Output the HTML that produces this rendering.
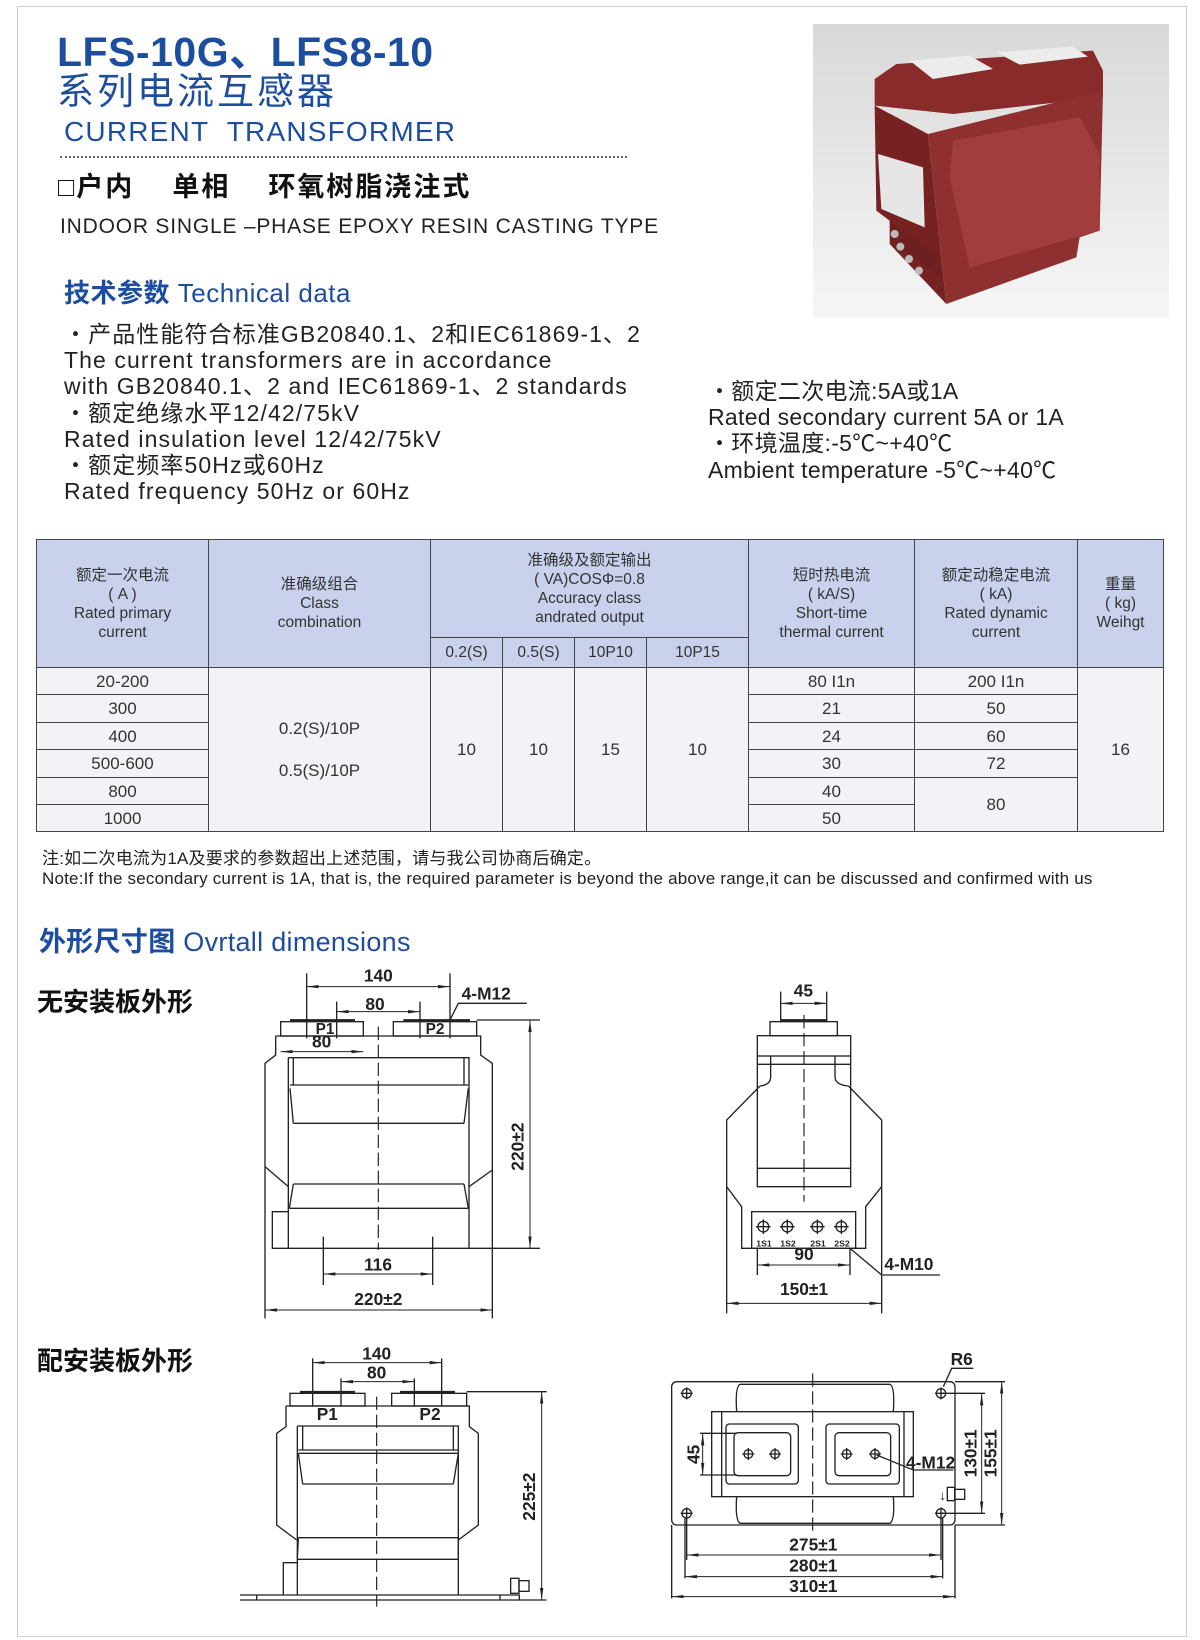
<!DOCTYPE html>
<html><head><meta charset="utf-8">
<style>
*{margin:0;padding:0;box-sizing:border-box}
body{width:1200px;height:1640px;background:#fff;position:relative;overflow:hidden;font-family:"Liberation Sans","Noto Sans CJK SC",sans-serif;color:#222}
.a{position:absolute;white-space:nowrap}
.blue{color:#1d4d9e}
table{position:absolute;left:36px;top:539px;border-collapse:collapse;table-layout:fixed;width:1127px}
td{border:1.5px solid #444;text-align:center;vertical-align:middle;font-size:16px;line-height:19px;color:#333}
thead td{background:#c9d1ec;font-size:15.5px}
tbody td{background:#f2f3f7;font-size:17px}
</style></head><body>
<div class="a" style="left:17px;top:6px;width:1170px;height:1631px;border:1.5px solid #cfcfcf"></div>

<div class="a blue" style="left:57px;top:18px;font-size:41px;font-weight:bold;letter-spacing:0.5px">LFS-10G、LFS8-10</div>
<div class="a blue" style="left:57px;top:72px;font-size:37px;letter-spacing:3px;line-height:40px">系列电流互感器</div>
<div class="a blue" style="left:64px;top:116px;font-size:28px;letter-spacing:1.2px">CURRENT&nbsp; TRANSFORMER</div>
<div class="a" style="left:60px;top:156px;width:567px;border-top:2px dotted #666"></div>
<div class="a" style="left:58px;top:171px;font-size:27px;font-weight:bold;line-height:32px;color:#111;letter-spacing:2px">□户内&nbsp;&nbsp;&nbsp; 单相&nbsp;&nbsp;&nbsp; 环氧树脂浇注式</div>
<div class="a" style="left:60px;top:215px;font-size:21px;color:#222;letter-spacing:0.8px">INDOOR SINGLE –PHASE EPOXY RESIN CASTING TYPE</div>
<div class="a blue" style="left:64px;top:273px;font-size:26px;letter-spacing:0.5px"><b>技术参数</b> Technical data</div>

<div class="a" style="left:64px;top:321px;font-size:23px;line-height:26.2px;color:#222;letter-spacing:1.1px">
・产品性能符合标准GB20840.1、2和IEC61869-1、2<br>
The current transformers are in accordance<br>
with GB20840.1、2 and IEC61869-1、2 standards<br>
・额定绝缘水平12/42/75kV<br>
Rated insulation level 12/42/75kV<br>
・额定频率50Hz或60Hz<br>
Rated frequency 50Hz or 60Hz</div>
<div class="a" style="left:708px;top:378px;font-size:23px;line-height:26.2px;color:#222;letter-spacing:0.3px">
・额定二次电流:5A或1A<br>
Rated secondary current 5A or 1A<br>
・环境温度:-5℃~+40℃<br>
Ambient temperature -5℃~+40℃</div>

<svg class="a" style="left:813px;top:24px" width="356" height="294" viewBox="0 0 1068 882" preserveAspectRatio="none">
<defs><linearGradient id="bg" x1="0" y1="0" x2="0" y2="1"><stop offset="0" stop-color="#d8d8d8"/><stop offset="1" stop-color="#f6f6f6"/></linearGradient></defs>
<rect width="1068" height="882" fill="url(#bg)"/>
<polygon points="185,165 250,120 840,80 870,140 870,220 420,270 185,245" fill="#8a2b2b"/>
<polygon points="185,245 345,330 400,840 230,660 230,590 190,560" fill="#762222"/>
<polygon points="345,330 870,200 860,620 800,640 790,700 400,840" fill="#8e3030"/>
<polygon points="420,350 800,280 860,390 860,620 470,730 410,460" fill="#a23d3d"/>
<polygon points="195,390 330,430 335,610 205,555" fill="#e6e6e6"/>
<polygon points="290,110 470,95 540,135 360,165" fill="#ececec"/>
<polygon points="550,85 780,68 825,98 620,122" fill="#ececec"/>
<polygon points="230,590 380,690 385,760 235,650" fill="#6e2020"/>
<circle cx="245" cy="630" r="12" fill="#bbb"/><circle cx="262" cy="668" r="12" fill="#bbb"/><circle cx="288" cy="705" r="12" fill="#bbb"/><circle cx="318" cy="740" r="12" fill="#bbb"/>
</svg>

<table>
<colgroup><col style="width:172px"><col style="width:222px"><col style="width:72px"><col style="width:72px"><col style="width:72px"><col style="width:102px"><col style="width:166px"><col style="width:163px"><col style="width:86px"></colgroup>
<thead>
<tr style="height:98px"><td rowspan="2">额定一次电流<br>( A )<br>Rated primary<br>current</td><td rowspan="2">准确级组合<br>Class<br>combination</td><td colspan="4">准确级及额定输出<br>( VA)COSΦ=0.8<br>Accuracy class<br>andrated output</td><td rowspan="2">短时热电流<br>( kA/S)<br>Short-time<br>thermal current</td><td rowspan="2">额定动稳定电流<br>( kA)<br>Rated dynamic<br>current</td><td rowspan="2">重量<br>( kg)<br>Weihgt</td></tr>
<tr style="height:30px"><td>0.2(S)</td><td>0.5(S)</td><td>10P10</td><td>10P15</td></tr>
</thead>
<tbody>
<tr style="height:27px"><td>20-200</td><td rowspan="6" style="line-height:42px">0.2(S)/10P<br>0.5(S)/10P</td><td rowspan="6">10</td><td rowspan="6">10</td><td rowspan="6">15</td><td rowspan="6">10</td><td>80 I1n</td><td>200 I1n</td><td rowspan="6">16</td></tr>
<tr style="height:28px"><td>300</td><td>21</td><td>50</td></tr>
<tr style="height:27px"><td>400</td><td>24</td><td>60</td></tr>
<tr style="height:28px"><td>500-600</td><td>30</td><td>72</td></tr>
<tr style="height:27px"><td>800</td><td>40</td><td rowspan="2">80</td></tr>
<tr style="height:27px"><td>1000</td><td>50</td></tr>
</tbody></table>

<div class="a" style="left:42px;top:849px;font-size:17px;line-height:20px;color:#222;letter-spacing:0.2px">注:如二次电流为1A及要求的参数超出上述范围，请与我公司协商后确定。<br>Note:If the secondary current is 1A, that is, the required parameter is beyond the above range,it can be discussed and confirmed with us</div>

<div class="a blue" style="left:39px;top:920px;font-size:27px;letter-spacing:0.3px"><b>外形尺寸图</b> Ovrtall dimensions</div>
<div class="a" style="left:37px;top:982px;font-size:26px;font-weight:bold;color:#111">无安装板外形</div>
<div class="a" style="left:37px;top:1341px;font-size:26px;font-weight:bold;color:#111">配安装板外形</div>

<svg class="a" style="left:0;top:0" width="1200" height="1640">
<defs>
<marker id="ar" markerUnits="userSpaceOnUse" markerWidth="36" markerHeight="16" refX="36" refY="6" orient="auto-start-reverse" viewBox="0 0 36 12"><path d="M36,6 L0,1 L0,11 Z" fill="#222"/></marker>
</defs>
<style>
.d path,.d rect,.d circle{fill:none;stroke:#222;stroke-width:4}
.d path.m{marker-start:url(#ar);marker-end:url(#ar);stroke-width:3}
.d path.th{stroke-width:9}
.d path.ds{stroke-dasharray:40,14;stroke-width:3.5}
.d text{font-family:"Liberation Sans",sans-serif;font-weight:bold;font-size:52px;fill:#222;text-anchor:middle;stroke:none}
</style>

<g class="d" transform="translate(240,960) scale(0.33333)">
<path d="M200,40V235M630,40V235M290,125V235M540,125V235"/>
<path class="m" d="M200,80H630"/><path class="m" d="M290,155H540"/>
<text x="415" y="65">140</text><text x="405" y="150">80</text>
<text x="665" y="118" style="text-anchor:start">4-M12</text>
<path d="M630,180L655,130H860"/>
<rect x="122" y="185" width="248" height="43"/><rect x="460" y="185" width="250" height="43"/>
<path class="th" d="M150,182H345M490,182H690"/>
<text x="255" y="222" style="font-size:46px">P1</text><text x="585" y="222" style="font-size:46px">P2</text>
<text x="245" y="262">80</text><path class="m" d="M122,275H370"/>
<path d="M107,228H722V285L757,310V1075M107,228V285L75,310V1075M75,620L145,680M757,630L687,680"/>
<path d="M145,293H687V865H97V755H145M145,293V865"/>
<path d="M160,293V375M672,293V375M150,375H685M150,385L160,490M685,385L672,490M160,490H672M160,672H672M160,672L148,745M672,672L685,745M148,745H687"/>
<path class="ds" d="M415,200V870"/>
<path d="M710,180H900M687,865H900"/><path class="m" d="M870,180V865"/>
<text transform="translate(850,560) rotate(-90)">220±2</text>
<path d="M250,830V975M578,830V975"/><path class="m" d="M250,942H578"/><text x="414" y="932">116</text>
<path class="m" d="M75,1050H757"/><text x="415" y="1035">220±2</text>
</g>

<g class="d" transform="translate(700,960) scale(0.33333)">
<path d="M242,95V185M380,95V185"/><path class="m" d="M242,130H380"/><text x="310" y="110">45</text>
<path class="th" d="M242,182H382"/>
<rect x="210" y="185" width="202" height="42"/><rect x="172" y="227" width="280" height="61"/>
<path d="M172,313H452M172,288V680H452V288M172,625H452"/>
<path d="M212,288V350Q212,375 180,378M405,288V350Q405,375 445,378M180,378L80,480V680L125,740V865H497V740L545,680V480L445,378"/>
<rect x="155" y="755" width="312" height="110"/>
<g><circle cx="190" cy="800" r="16"/><circle cx="262" cy="800" r="16"/><circle cx="352" cy="800" r="16"/><circle cx="424" cy="800" r="16"/>
<path d="M190,778V822M168,800H212M262,778V822M240,800H284M352,778V822M330,800H374M424,778V822M402,800H446"/></g>
<text x="192" y="860" style="font-size:26px">1S1</text><text x="264" y="860" style="font-size:26px">1S2</text><text x="354" y="860" style="font-size:26px">2S1</text><text x="426" y="860" style="font-size:26px">2S2</text>
<path class="ds" d="M312,165V725"/>
<path d="M172,865V945M450,865V945"/><path class="m" d="M172,915H450"/><text x="312" y="900">90</text>
<path d="M80,680V1060M545,680V1060"/><path class="m" d="M80,1030H545"/><text x="312" y="1005">150±1</text>
<path d="M450,865L545,945H720"/><text x="553" y="930" style="text-anchor:start">4-M10</text>
</g>

<g class="d" transform="translate(240,1320) scale(0.33333)">
<path d="M218,115V260M605,115V260M303,175V260M523,175V260"/>
<path class="m" d="M218,128H605"/><path class="m" d="M303,185H523"/>
<text x="410" y="118">140</text><text x="410" y="175">80</text>
<rect x="150" y="220" width="225" height="38"/><rect x="455" y="220" width="225" height="38"/>
<path class="th" d="M180,217H345M480,217H645"/>
<text x="262" y="300">P1</text><text x="570" y="300">P2</text>
<path d="M138,258H688V320L715,340V615L655,660M138,258V320L110,340V615L170,660"/>
<path d="M172,318H655V825M172,318V825"/>
<path d="M188,318V390M640,318V390M175,390H655M175,400H655M175,400L188,492M655,400L640,492M188,492H640M175,653H655M175,653L172,718M655,653L655,718M172,718H655"/>
<path d="M130,825V728H172"/>
<path d="M0,825H838V840H0M50,825V840M780,825V840"/>
<rect x="812" y="775" width="25" height="45"/><rect x="837" y="782" width="30" height="32"/>
<path d="M680,215H920M838,840H920"/><path class="m" d="M905,215V840"/>
<text transform="translate(885,530) rotate(-90)">225±2</text>
<path class="ds" d="M410,230V860"/>
</g>

<g class="d" transform="translate(660,1340) scale(0.33333)">
<rect x="35" y="125" width="850" height="430" rx="15"/>
<circle cx="80" cy="160" r="14"/><circle cx="843" cy="160" r="14"/><circle cx="80" cy="520" r="14"/><circle cx="843" cy="520" r="14"/>
<path d="M62,160H98M80,142V178M825,160H861M843,142V178M62,520H98M80,502V538M825,520H861M843,502V538"/>
<path d="M230,215Q225,140 240,133H690Q705,140 700,215M230,470Q225,540 240,550H690Q705,540 700,470"/>
<rect x="155" y="215" width="605" height="255"/><path d="M185,215V470M732,215V470"/>
<rect x="198" y="252" width="217" height="180" rx="10"/><rect x="222" y="278" width="170" height="129" rx="12"/>
<rect x="498" y="252" width="220" height="180" rx="10"/><rect x="525" y="278" width="167" height="129" rx="12"/>
<circle cx="265" cy="342" r="13"/><circle cx="345" cy="342" r="13"/><circle cx="560" cy="342" r="13"/><circle cx="645" cy="342" r="13"/>
<path d="M265,324V360M247,342H283M345,324V360M327,342H363M560,324V360M542,342H578M645,324V360M627,342H663"/>
<path d="M120,280H230M120,405H230"/><path class="m" d="M128,280V405"/>
<text transform="translate(118,343) rotate(-90)">45</text>
<path d="M650,345L760,390H880"/><text x="738" y="385" style="text-anchor:start">4-M12</text>
<path d="M850,140L875,85H940"/><text x="905" y="75">R6</text>
<path d="M843,160H975M843,520H975"/><path class="m" d="M965,160V520"/>
<text transform="translate(950,340) rotate(-90)">130±1</text>
<path d="M885,125H1035M885,555H1035"/><path class="m" d="M1025,125V555"/>
<text transform="translate(1010,340) rotate(-90)">155±1</text>
<rect x="862" y="442" width="22" height="40"/><rect x="884" y="448" width="30" height="30"/>
<text x="848" y="480" style="font-size:40px">↓</text>
<path class="ds" d="M458,100V575"/>
<path d="M80,535V660M843,535V660"/><path class="m" d="M80,645H843"/><text x="460" y="632">275±1</text>
<path d="M75,535V715M848,535V715"/><path class="m" d="M75,710H848"/><text x="460" y="694">280±1</text>
<path d="M35,555V775M885,555V775"/><path class="m" d="M35,770H885"/><text x="460" y="756">310±1</text>
</g>
</svg>
</body></html>
